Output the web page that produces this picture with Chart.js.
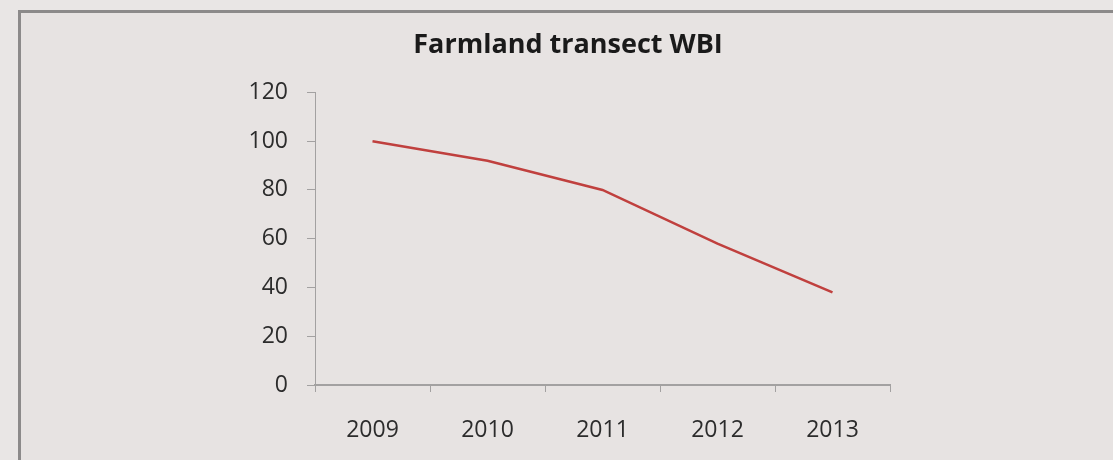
<!DOCTYPE html>
<html>
<head>
<meta charset="utf-8">
<script src="https://cdn.jsdelivr.net/npm/chart.js@4.4.0/dist/chart.umd.min.js"></script>
<style>
  html, body { margin: 0; padding: 0; background: #e9e6e5; }
  #wrap { position: relative; width: 1113px; height: 460px; overflow: hidden; }
  #frame {
    position: absolute; left: 18px; top: 10px; width: 1200px; height: 500px;
    border-left: 3px solid #8c8a8a; border-top: 3px solid #8c8a8a;
    background: #e7e3e2;
  }
  #chart { position: absolute; left: 23px; top: 0; }
</style>
</head>
<body>
<div id="wrap">
  <div id="frame"></div>
  <canvas id="chart" width="1090" height="460"></canvas>
</div>
<script>
// data
const years = ["2009", "2010", "2011", "2012", "2013"];
const wbiValues = [100, 92, 80, 58, 38];
const yTicks = [0, 20, 40, 60, 80, 100, 120];

const axisGrey = "#a3a1a1";
const textGrey = "#2c2c2c";

const config = {
  type: "line",
  data: {
    labels: years,
    datasets: [
      {
        label: "Farmland transect WBI",
        data: wbiValues,
        borderColor: "#c0403e",
        borderWidth: 2.5,
        pointRadius: 0,
        tension: 0,
      },
    ],
  },
  options: {
    responsive: false,
    animation: false,
    layout: { padding: 0 },
    plugins: {
      legend: { display: false },
      tooltip: { enabled: false },
      title: {
        display: true,
        text: "Farmland transect WBI",
        color: "#1a1a1a",
        font: { family: "Open Sans", size: 27, weight: "bold" },
        padding: { top: 29, bottom: 31 },
      },
    },
    scales: {
      x: {
        offset: true,
        grid: {
          offset: true,
          drawOnChartArea: false,
          drawTicks: true,
          tickLength: 7,
          color: axisGrey,
        },
        border: { color: axisGrey, width: 2 },
        ticks: {
          color: textGrey,
          padding: 25,
          font: { family: "Open Sans", size: 23 },
        },
        afterFit(scale) {
          scale.height = 75;
        },
      },
      y: {
        min: 0,
        max: 120,
        afterBuildTicks(scale) {
          scale.ticks = yTicks.map(v => ({ value: v }));
        },
        grid: {
          drawOnChartArea: false,
          drawTicks: true,
          tickLength: 8,
          color: axisGrey,
        },
        border: { color: axisGrey, width: 1 },
        ticks: {
          color: textGrey,
          padding: 19,
          font: { family: "Open Sans", size: 23 },
        },
        afterFit(scale) {
          scale.width = 292;
        },
      },
      // empty right-hand space so the title stays centred on the whole frame
      spacer: {
        type: "linear",
        position: "right",
        display: true,
        grid: { display: false },
        border: { display: false },
        ticks: { display: false },
        afterFit(scale) {
          scale.width = 223;
        },
      },
    },
  },
};

new Chart(document.getElementById("chart"), config);
</script>
</body>
</html>
